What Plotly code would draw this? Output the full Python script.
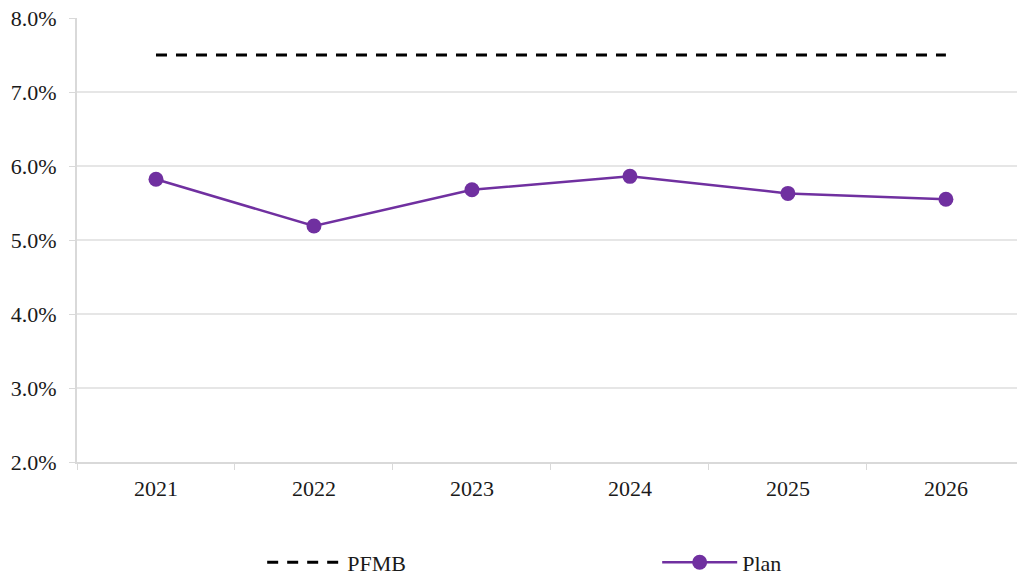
import plotly.graph_objects as go

years = ["2021", "2022", "2023", "2024", "2025", "2026"]
plan = [0.0582, 0.0519, 0.0568, 0.0586, 0.0563, 0.0555]
pfmb = [0.075, 0.075, 0.075, 0.075, 0.075, 0.075]
y_ticks = [0.02, 0.03, 0.04, 0.05, 0.06, 0.07, 0.08]

FONT = "Liberation Serif, Times New Roman, serif"
TXT = "#1a1a1a"

fig = go.Figure()
fig.add_trace(go.Scatter(
    x=years, y=pfmb, name="PFMB", mode="lines",
    line=dict(color="black", width=3, dash="11px,9px"),
))
fig.add_trace(go.Scatter(
    x=years, y=plan, name="Plan", mode="lines+markers",
    line=dict(color="#7030A0", width=2.5),
    marker=dict(color="#7030A0", size=15),
))

fig.update_layout(
    width=1017, height=575,
    margin=dict(l=77, r=0, t=18, b=113, autoexpand=False),
    paper_bgcolor="white", plot_bgcolor="white",
    font=dict(family=FONT, size=22, color=TXT),
    showlegend=True,
    legend=dict(
        orientation="h", x=0.197, xanchor="left", y=-0.179, yanchor="top",
        entrywidth=305, entrywidthmode="pixels",
        font=dict(family=FONT, size=22, color=TXT),
        itemwidth=75,
    ),
)
fig.update_xaxes(
    type="category", range=[-0.5, 5.45],
    showgrid=False, showline=True, linecolor="#d9d9d9", linewidth=2,
    ticks="outside", tickson="boundaries", ticklen=6, tickcolor="#d9d9d9",
    ticklabelstandoff=6,
    tickfont=dict(family=FONT, size=22, color=TXT),
)
fig.update_yaxes(
    range=[0.02, 0.08], tickvals=y_ticks, tickformat=".1%",
    showgrid=True, gridcolor="#e6e6e6", gridwidth=1.5,
    showline=True, linecolor="#d9d9d9", linewidth=2,
    ticks="outside", ticklen=6, tickcolor="#d9d9d9",
    ticklabelstandoff=8, ticklabeloverflow="allow",
    tickfont=dict(family=FONT, size=22, color=TXT),
    zeroline=False,
)

fig.write_html("out.html", config={"displayModeBar": False},
               post_script="document.body.style.margin='0';")
